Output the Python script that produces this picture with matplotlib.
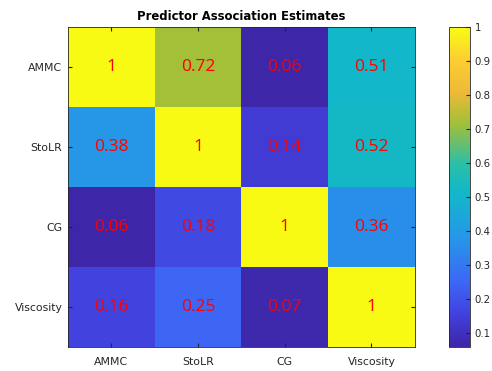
import numpy as np
import matplotlib
matplotlib.use("Agg")
from matplotlib import pyplot as plt
from matplotlib.colors import LinearSegmentedColormap

# predictor association estimates
names = ['AMMC', 'StoLR', 'CG', 'Viscosity']
row_ammc = [1, 0.72, 0.06, 0.51]
row_stolr = [0.38, 1, 0.14, 0.52]
row_cg = [0.06, 0.18, 1, 0.36]
row_visc = [0.16, 0.25, 0.07, 1]
cbar_ticks = [0.1, 0.2, 0.3, 0.4, 0.5, 0.6, 0.7, 0.8, 0.9, 1]

# parula-like colormap (anchors picked to match the picture)
parula_pts = [
    (0.00, (0.2422, 0.1504, 0.6603)),
    (0.10, (0.26, 0.25, 0.87)),
    (0.20, (0.24, 0.40, 0.96)),
    (0.34, (0.15, 0.59, 0.91)),
    (0.48, (0.07, 0.72, 0.79)),
    (0.57, (0.16, 0.75, 0.66)),
    (0.70, (0.64, 0.75, 0.22)),
    (0.80, (0.93, 0.73, 0.22)),
    (0.90, (0.99, 0.81, 0.19)),
    (1.00, (0.9769, 0.9839, 0.0805))]
parula = LinearSegmentedColormap.from_list('parula', parula_pts, N=256)

M = np.array([row_ammc, row_stolr, row_cg, row_visc])

fig = plt.figure(figsize=(4.92, 3.71), dpi=100)
ax = fig.add_axes([0.138, 0.065, 0.705, 0.862])
im = ax.imshow(M, cmap=parula, vmin=M.min(), vmax=1, aspect='auto')

for i in range(M.shape[0]):
    for j in range(M.shape[1]):
        v = M[i, j]
        s = '1' if v == 1 else '%.2f' % v
        ax.text(j, i, s, color='red', fontsize=12.5, ha='center', va='center',
                family='Open Sans')

ax.set_xticks(range(len(names)))
ax.set_xticklabels(names)
ax.set_yticks(range(len(names)))
ax.set_yticklabels(names)
ax.tick_params(labelsize=7.8, colors='#262626', direction='in', length=3,
               top=True, right=True)
ax.tick_params(axis='x', pad=7)
ax.tick_params(axis='y', pad=4)
for sp in ax.spines.values():
    sp.set_color('#262626')
    sp.set_linewidth(0.6)
ax.set_title('Predictor Association Estimates', fontsize=8.4, fontweight='bold', pad=5)

cax = fig.add_axes([0.913, 0.065, 0.043, 0.862])
cb = fig.colorbar(im, cax=cax, ticks=cbar_ticks)
cb.ax.set_yticklabels(['0.1', '0.2', '0.3', '0.4', '0.5', '0.6', '0.7', '0.8', '0.9', '1'])
cb.ax.tick_params(labelsize=7.3, colors='#262626', direction='in', length=3, pad=3)
cb.outline.set_edgecolor('#262626')
cb.outline.set_linewidth(0.6)

plt.savefig('out.png', dpi=100)
